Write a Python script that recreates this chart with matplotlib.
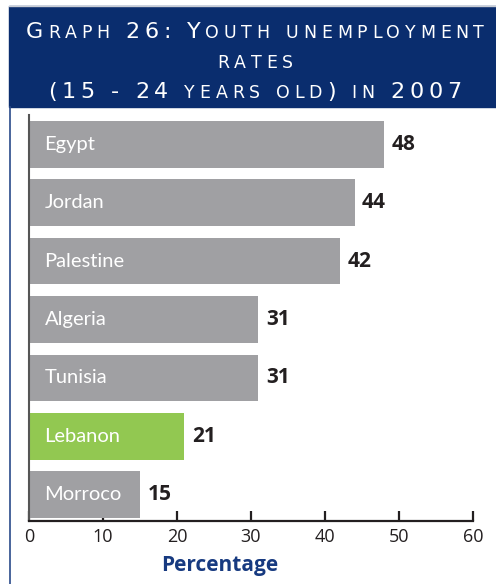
import matplotlib
matplotlib.use("Agg")
import matplotlib.pyplot as plt
from matplotlib.patches import Rectangle
from matplotlib.lines import Line2D

countries = ["Egypt", "Jordan", "Palestine", "Algeria", "Tunisia", "Lebanon", "Morroco"]
rates = [48, 44, 42, 31, 31, 21, 15]
highlight = "Lebanon"
x_ticks = [0, 10, 20, 30, 40, 50, 60]
title_lines = ["Graph 26: Youth unemployment", "rates", "(15 - 24 years old) in 2007"]

GREY = "#a0a0a3"
GREEN = "#92c851"
NAVY = "#0a2d6e"
DARK = "#231f20"

W, H = 496, 584
fig = plt.figure(figsize=(W / 100, H / 100), dpi=100)

# blue header box and left frame line
fig.patches.append(Rectangle((9 / W, 1 - 107 / H), 1 - 9 / W, 101 / H,
                             transform=fig.transFigure, color=NAVY, zorder=0))
fig.lines.append(Line2D([9.5 / W, 9.5 / W], [0, 1 - 107 / H],
                        transform=fig.transFigure, color="#2a4a8a", lw=1.2))
fig.lines.append(Line2D([9 / W, 1], [1 - 5.5 / H, 1 - 5.5 / H],
                        transform=fig.transFigure, color="#c8ccd4", lw=1))


def small_caps_line(text, y_px, big=16, small=12.5, track=4.7, cx=255):
    # draw text char by char so lowercase becomes small capitals
    renderer = fig.canvas.get_renderer()
    items = []
    for ch in text:
        size = small if ch.islower() else big
        t = fig.text(0, 0, ch.upper(), fontsize=size, color="white",
                     family="DejaVu Sans", fontweight="normal",
                     va="baseline", ha="left")
        w = t.get_window_extent(renderer).width
        if ch == " ":
            w = size * 0.42
        items.append((t, w))
    total = sum(w for _, w in items) + track * (len(items) - 1)
    x = cx - total / 2
    for t, w in items:
        t.set_position((x / W, 1 - y_px / H))
        x += w + track


small_caps_line(title_lines[0], 38)
small_caps_line(title_lines[1], 68)
small_caps_line(title_lines[2], 98)

ax = fig.add_axes([29 / W, 63 / H, 444 / W, 406 / H])
ypos = list(range(len(countries)))[::-1]
colors = [GREEN if c == highlight else GREY for c in countries]
ax.barh(ypos, rates, height=0.8, color=colors, zorder=2)

for y, c, v in zip(ypos, countries, rates):
    ax.text(2.1, y, c, color="white", fontsize=14.5, family="Lato",
            va="center", ha="left", zorder=3)
    ax.text(v + 1.0, y, str(v), color=DARK, fontsize=15, fontweight="bold",
            family="Open Sans", va="center", ha="left")

ax.set_xlim(0, 60)
ax.set_ylim(-0.45, 6.5)
ax.set_xticks(x_ticks)
ax.set_xticklabels([str(t) for t in x_ticks], fontsize=13, color=DARK,
                   family="Open Sans")
ax.set_yticks([])
ax.tick_params(axis="x", direction="in", length=7, width=1.6, color=DARK, pad=5)
for s in ["top", "right"]:
    ax.spines[s].set_visible(False)
ax.spines["left"].set_color("#555555")
ax.spines["left"].set_linewidth(1.5)
ax.spines["bottom"].set_color(DARK)
ax.spines["bottom"].set_linewidth(1.6)

fig.text(220 / W, 1 - 565 / H, "Percentage", fontsize=15, fontweight="bold",
         color="#173a80", family="Open Sans", ha="center", va="center")

fig.savefig("out.png", dpi=100)
